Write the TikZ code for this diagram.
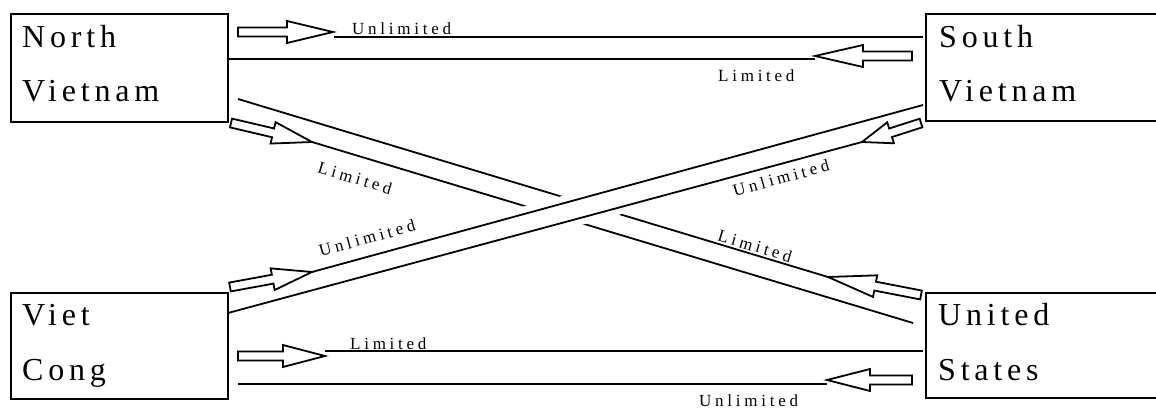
\documentclass[tikz,border=0pt]{standalone}
\usepackage{fontspec}
\setmainfont{Liberation Serif}
\newfontfamily\boxfont[LetterSpace=15]{Liberation Serif}
\newfontfamily\labfont[LetterSpace=22]{Liberation Serif}
\usetikzlibrary{calc}

\tikzset{
  box/.style={draw, line width=2.2pt, rectangle, inner sep=0pt, anchor=north west},
  boxtext/.style={anchor=base west, inner sep=0pt, font=\boxfont\fontsize{32}{32}\selectfont},
  lab/.style={inner sep=0pt, font=\labfont\fontsize{17}{17}\selectfont},
  conn/.style={line width=1.8pt},
  blockarr/.style={line width=1.8pt, line join=miter},
  gapband/.style={white, line width=33pt},
}

% #1 head length, #2 tail coordinate, #3 tip coordinate
\newcommand\blockarrow[3]{%
  \draw[blockarr] let \p1=(#2), \p2=(#3),
     \n1={atan2(\y2-\y1,\x2-\x1)},
     \n2={veclen(\x2-\x1,\y2-\y1)-#1} in
   ($(\p1)+(\n1+90:4.5pt)$)
   -- ($(\p1)+(\n1:\n2)+(\n1+90:4.5pt)$)
   -- ($(\p1)+(\n1:\n2)+(\n1+90:11pt)$)
   -- (\p2)
   -- ($(\p1)+(\n1:\n2)+(\n1-90:11pt)$)
   -- ($(\p1)+(\n1:\n2)+(\n1-90:4.5pt)$)
   -- ($(\p1)+(\n1-90:4.5pt)$) -- cycle;
}

\begin{document}
\begin{tikzpicture}[x=1pt, y=-1pt]
\useasboundingbox[fill=white] (0,0) rectangle (1156,411);
\clip (0,0) rectangle (1156,411);

% boxes
\node[box, minimum width=217pt, minimum height=108pt] (nv) at (10,13) {};
\node[box, minimum width=260pt, minimum height=107pt] (sv) at (925,13) {};
\node[box, minimum width=217pt, minimum height=106pt] (vc) at (10,292) {};
\node[box, minimum width=260pt, minimum height=105pt] (us) at (925,292) {};

\node[boxtext] (nv1) at (22,48) {North};
\node[boxtext] (nv2) at (22,102) {Vietnam};
\node[boxtext] (sv1) at (939,48) {South};
\node[boxtext] (sv2) at (939,102) {Vietnam};
\node[boxtext] (vc1) at (22,326) {Viet};
\node[boxtext] (vc2) at (22,380) {Cong};
\node[boxtext] (us1) at (938,326) {United};
\node[boxtext] (us2) at (938,380) {States};

% coordinates: top pair
\coordinate (a1t) at (238,32);  \coordinate (a1h) at (333,32);
\coordinate (l1s) at (334,37);  \coordinate (l1e) at (923,37);
\coordinate (l2s) at (228,59);  \coordinate (l2e) at (815,59);
\coordinate (a2t) at (912,56);  \coordinate (a2h) at (815,56);
% bottom pair
\coordinate (a3t) at (238,356); \coordinate (a3h) at (325,356);
\coordinate (l3s) at (325,351); \coordinate (l3e) at (923,351);
\coordinate (l4s) at (238,384); \coordinate (l4e) at (827,384);
\coordinate (a4t) at (912,380); \coordinate (a4h) at (827,380);
% NV - US
\coordinate (a5t) at (231,123); \coordinate (a5h) at (312,142);
\coordinate (d1s) at (238,99);  \coordinate (d1e) at (828,277);
\coordinate (d2e) at (913,323);
\coordinate (a8t) at (921,295);
% VC - SV
\coordinate (a6t) at (230,287); \coordinate (a6h) at (312,272);
\coordinate (d3e) at (923,105);
\coordinate (d4s) at (228,313); \coordinate (d4e) at (862,142);
\coordinate (a7t) at (921,123);
% crossing band
\coordinate (bandA) at (500,230); \coordinate (bandB) at (680,181);

% horizontal connectors
\draw[conn] (l1s) -- (l1e);
\draw[conn] (l2s) -- (l2e);
\draw[conn] (l3s) -- (l3e);
\draw[conn] (l4s) -- (l4e);
\blockarrow{46}{a1t}{a1h}
\blockarrow{48}{a2t}{a2h}
\blockarrow{42}{a3t}{a3h}
\blockarrow{43}{a4t}{a4h}

% NV - US (under)
\draw[conn] (d1s) -- (d1e);
\draw[conn] (a5h) -- (d2e);
\blockarrow{40}{a5t}{a5h}
\blockarrow{48}{a8t}{d1e}

% gap at the crossing
\draw[gapband] (bandA) -- (bandB);

% VC - SV (over)
\draw[conn] (a6h) -- (d3e);
\draw[conn] (d4s) -- (d4e);
\blockarrow{40}{a6t}{a6h}
\blockarrow{30}{a7t}{d4e}

% labels
\node[lab, anchor=base west] (lab1) at (352,35) {Unlimited};
\node[lab, anchor=base west] (lab2) at (718,82) {Limited};
\node[lab, anchor=base west] (lab7) at (350,349) {Limited};
\node[lab, anchor=base west] (lab8) at (699,406) {Unlimited};
\node[lab, rotate=-16.8] (lab3) at (355,178) {Limited};
\node[lab, rotate=15.3] (lab4) at (367,238) {Unlimited};
\node[lab, rotate=15.3] (lab5) at (781,178) {Unlimited};
\node[lab, rotate=-16.8] (lab6) at (755,246) {Limited};
\end{tikzpicture}
\end{document}
